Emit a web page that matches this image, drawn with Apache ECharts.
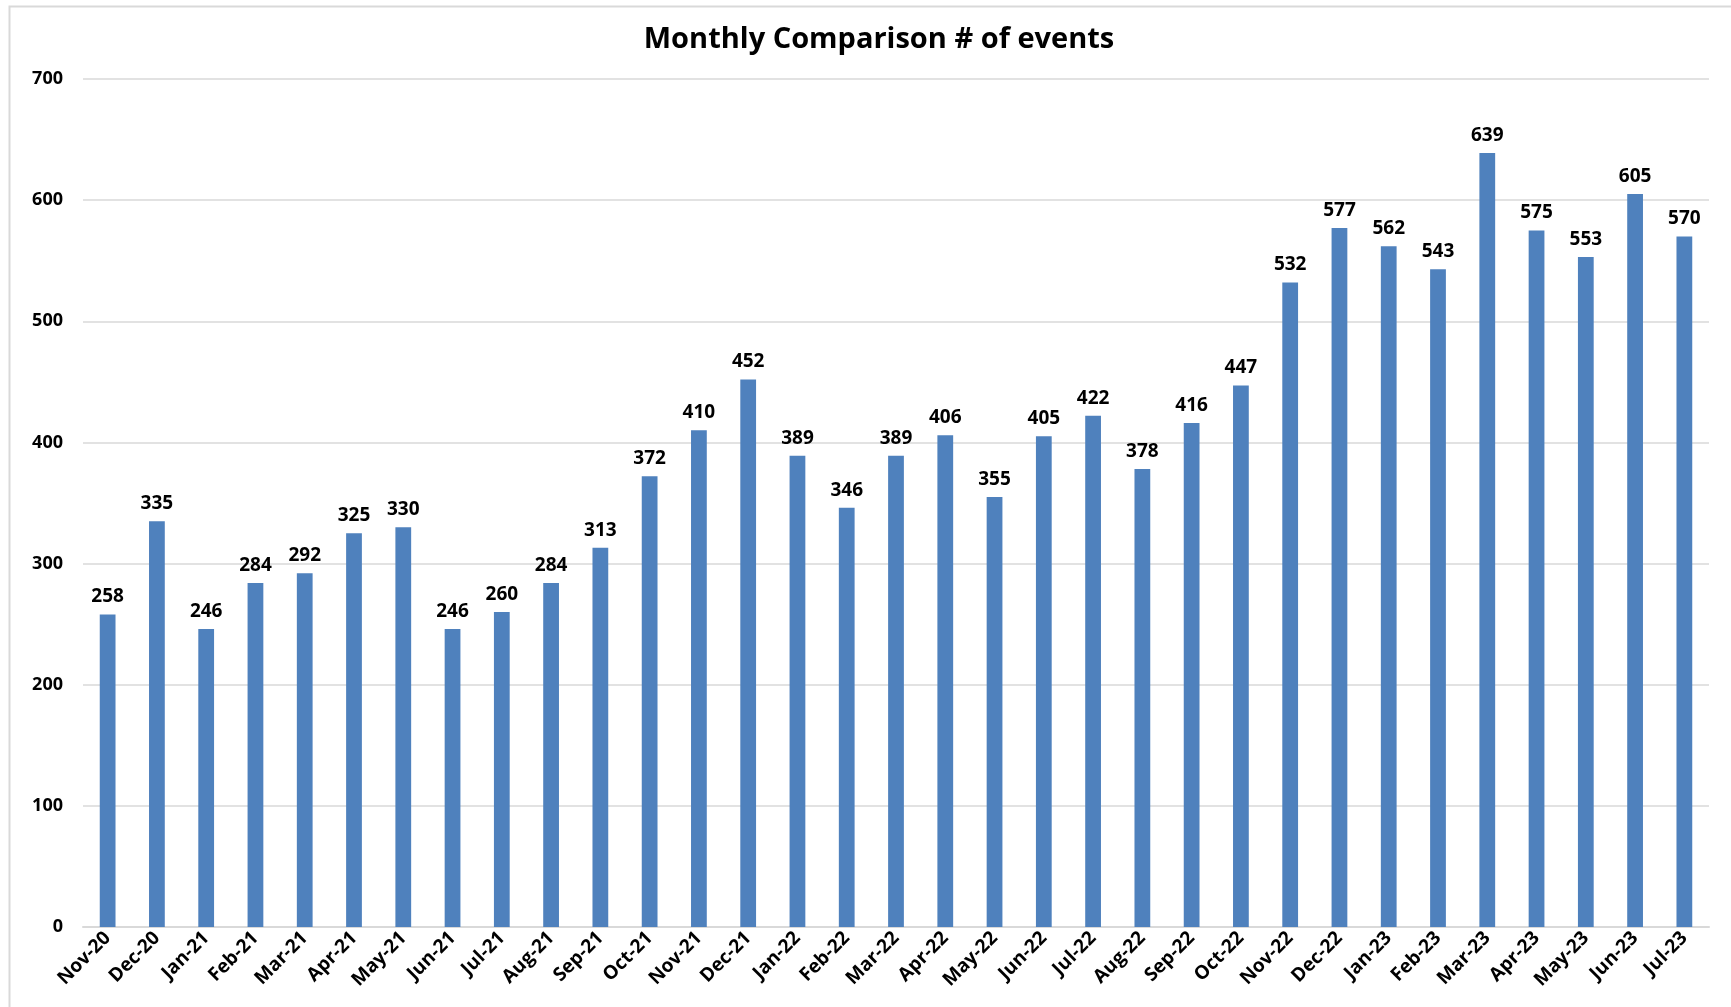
<!DOCTYPE html>
<html><head><meta charset="utf-8">
<script src="https://cdn.jsdelivr.net/npm/echarts@6/dist/echarts.min.js"></script>
<style>html,body{margin:0;padding:0;background:#fff}#c{width:1731px;height:1007px}</style>
</head><body><div id="c"></div>
<script>
const categories = ['Nov-20','Dec-20','Jan-21','Feb-21','Mar-21','Apr-21','May-21','Jun-21','Jul-21','Aug-21','Sep-21','Oct-21','Nov-21','Dec-21','Jan-22','Feb-22','Mar-22','Apr-22','May-22','Jun-22','Jul-22','Aug-22','Sep-22','Oct-22','Nov-22','Dec-22','Jan-23','Feb-23','Mar-23','Apr-23','May-23','Jun-23','Jul-23'];
const events = [258,335,246,284,292,325,330,246,260,284,313,372,410,452,389,346,389,406,355,405,422,378,416,447,532,577,562,543,639,575,553,605,570];
const titleText = 'Monthly Comparison # of events';

const font = '"Open Sans", "Noto Sans", sans-serif';
const chart = echarts.init(document.getElementById('c'), null, {renderer:'canvas'});
chart.setOption({
  backgroundColor:'#fff',
  animation:false,
  graphic:[{type:'rect',left:7,top:4,shape:{width:1800,height:1100},style:{fill:'none',stroke:'#d9d9d9',lineWidth:2},silent:true}],
  title:{text:titleText,left:874,textAlign:'center',top:20,textStyle:{fontFamily:font,fontWeight:'bold',fontSize:29,color:'#000'}},
  grid:{left:83,right:22,top:79,bottom:80},
  xAxis:{type:'category',data:categories,
    axisLine:{lineStyle:{color:'#d9d9d9',width:2}},axisTick:{show:false},
    axisLabel:{rotate:45,interval:0,margin:8,fontFamily:font,fontWeight:'bold',fontSize:19,color:'#000'}},
  yAxis:{type:'value',min:0,max:700,interval:100,
    axisLine:{show:false},axisTick:{show:false},
    splitLine:{lineStyle:{color:'#d9d9d9',width:1.5}},
    axisLabel:{margin:20,fontFamily:font,fontWeight:'bold',fontSize:18,color:'#000'}},
  series:[{type:'bar',data:events,barWidth:'32%',
    itemStyle:{color:'#4F81BD'},
    label:{show:true,position:'top',distance:8,fontFamily:font,fontWeight:'bold',fontSize:19,color:'#000'}}]
});
</script></body></html>
